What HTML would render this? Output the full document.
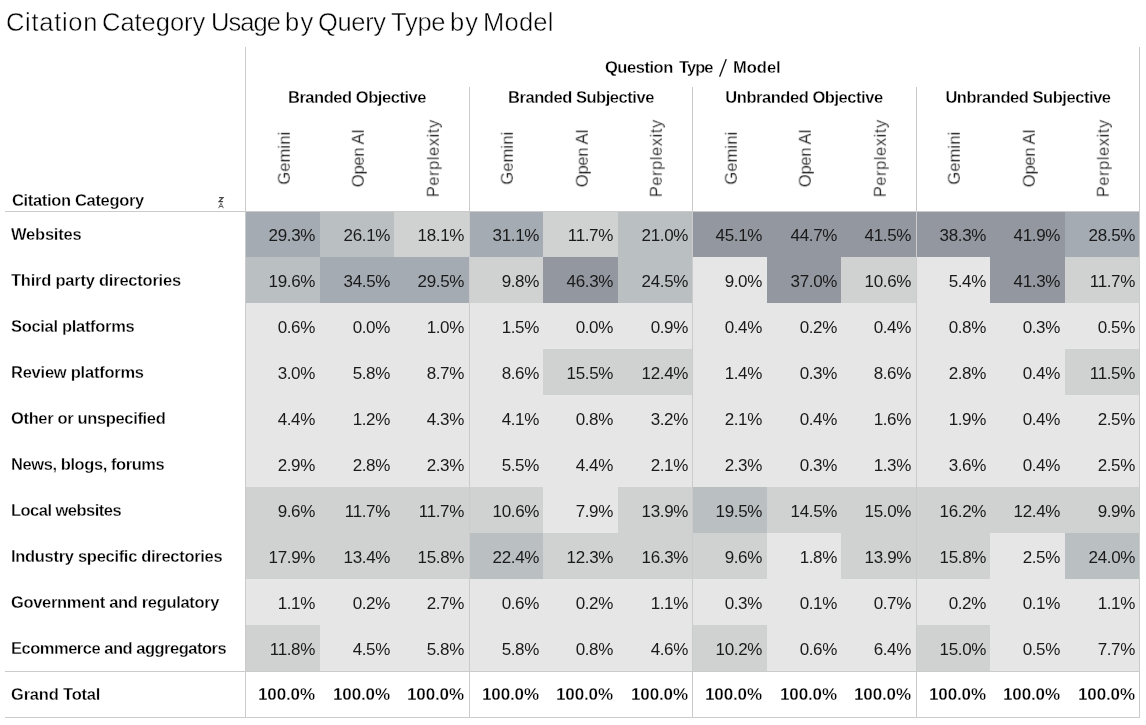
<!DOCTYPE html><html><head><meta charset="utf-8"><title>Citation Category Usage</title><style>
*{margin:0;padding:0;box-sizing:border-box}
html,body{width:1146px;height:725px;overflow:hidden;background:#fff}
body{position:relative;font-family:"Liberation Sans",sans-serif;color:#1a1a1a}
.a{position:absolute}
.t{position:absolute;white-space:nowrap;will-change:transform}
.hl{position:absolute;height:1px;background:#cbcbcb}
.vl{position:absolute;width:1px;background:#cbcbcb}
</style></head><body>
<div class="t" style="top:9.71px;font-size:25.50px;line-height:25.50px;letter-spacing:0.70px;font-weight:normal;color:#000;-webkit-text-stroke:0.45px #fff;left:5.60px;">Citation</div>
<div class="t" style="top:9.71px;font-size:25.50px;line-height:25.50px;letter-spacing:-0.03px;font-weight:normal;color:#000;-webkit-text-stroke:0.45px #fff;left:102.00px;">Category</div>
<div class="t" style="top:9.71px;font-size:25.50px;line-height:25.50px;letter-spacing:-0.93px;font-weight:normal;color:#000;-webkit-text-stroke:0.45px #fff;left:210.60px;">Usage</div>
<div class="t" style="top:9.71px;font-size:25.50px;line-height:25.50px;letter-spacing:1.20px;font-weight:normal;color:#000;-webkit-text-stroke:0.45px #fff;left:285.10px;">by</div>
<div class="t" style="top:9.71px;font-size:25.50px;line-height:25.50px;letter-spacing:-0.35px;font-weight:normal;color:#000;-webkit-text-stroke:0.45px #fff;left:317.60px;">Query</div>
<div class="t" style="top:9.71px;font-size:25.50px;line-height:25.50px;letter-spacing:-0.27px;font-weight:normal;color:#000;-webkit-text-stroke:0.45px #fff;left:390.70px;">Type</div>
<div class="t" style="top:9.71px;font-size:25.50px;line-height:25.50px;letter-spacing:1.00px;font-weight:normal;color:#000;-webkit-text-stroke:0.45px #fff;left:449.60px;">by</div>
<div class="t" style="top:9.71px;font-size:25.50px;line-height:25.50px;letter-spacing:0.23px;font-weight:normal;color:#000;-webkit-text-stroke:0.45px #fff;left:483.00px;">Model</div>
<div class="a" style="left:245px;top:211px;width:75px;height:46px;background:#a5abb3"></div>
<div class="a" style="left:320px;top:211px;width:74px;height:46px;background:#babfc2"></div>
<div class="a" style="left:394px;top:211px;width:75px;height:46px;background:#d0d2d1"></div>
<div class="a" style="left:469px;top:211px;width:74px;height:46px;background:#a5abb3"></div>
<div class="a" style="left:543px;top:211px;width:75px;height:46px;background:#d0d2d1"></div>
<div class="a" style="left:618px;top:211px;width:74px;height:46px;background:#babfc2"></div>
<div class="a" style="left:692px;top:211px;width:75px;height:46px;background:#93979f"></div>
<div class="a" style="left:767px;top:211px;width:74px;height:46px;background:#93979f"></div>
<div class="a" style="left:841px;top:211px;width:75px;height:46px;background:#93979f"></div>
<div class="a" style="left:916px;top:211px;width:74px;height:46px;background:#93979f"></div>
<div class="a" style="left:990px;top:211px;width:75px;height:46px;background:#93979f"></div>
<div class="a" style="left:1065px;top:211px;width:74px;height:46px;background:#a5abb3"></div>
<div class="a" style="left:245px;top:257px;width:75px;height:46px;background:#babfc2"></div>
<div class="a" style="left:320px;top:257px;width:74px;height:46px;background:#a5abb3"></div>
<div class="a" style="left:394px;top:257px;width:75px;height:46px;background:#a5abb3"></div>
<div class="a" style="left:469px;top:257px;width:74px;height:46px;background:#d0d2d1"></div>
<div class="a" style="left:543px;top:257px;width:75px;height:46px;background:#93979f"></div>
<div class="a" style="left:618px;top:257px;width:74px;height:46px;background:#babfc2"></div>
<div class="a" style="left:692px;top:257px;width:75px;height:46px;background:#e6e6e6"></div>
<div class="a" style="left:767px;top:257px;width:74px;height:46px;background:#93979f"></div>
<div class="a" style="left:841px;top:257px;width:75px;height:46px;background:#d0d2d1"></div>
<div class="a" style="left:916px;top:257px;width:74px;height:46px;background:#e6e6e6"></div>
<div class="a" style="left:990px;top:257px;width:75px;height:46px;background:#93979f"></div>
<div class="a" style="left:1065px;top:257px;width:74px;height:46px;background:#d0d2d1"></div>
<div class="a" style="left:245px;top:303px;width:75px;height:46px;background:#e6e6e6"></div>
<div class="a" style="left:320px;top:303px;width:74px;height:46px;background:#e6e6e6"></div>
<div class="a" style="left:394px;top:303px;width:75px;height:46px;background:#e6e6e6"></div>
<div class="a" style="left:469px;top:303px;width:74px;height:46px;background:#e6e6e6"></div>
<div class="a" style="left:543px;top:303px;width:75px;height:46px;background:#e6e6e6"></div>
<div class="a" style="left:618px;top:303px;width:74px;height:46px;background:#e6e6e6"></div>
<div class="a" style="left:692px;top:303px;width:75px;height:46px;background:#e6e6e6"></div>
<div class="a" style="left:767px;top:303px;width:74px;height:46px;background:#e6e6e6"></div>
<div class="a" style="left:841px;top:303px;width:75px;height:46px;background:#e6e6e6"></div>
<div class="a" style="left:916px;top:303px;width:74px;height:46px;background:#e6e6e6"></div>
<div class="a" style="left:990px;top:303px;width:75px;height:46px;background:#e6e6e6"></div>
<div class="a" style="left:1065px;top:303px;width:74px;height:46px;background:#e6e6e6"></div>
<div class="a" style="left:245px;top:349px;width:75px;height:46px;background:#e6e6e6"></div>
<div class="a" style="left:320px;top:349px;width:74px;height:46px;background:#e6e6e6"></div>
<div class="a" style="left:394px;top:349px;width:75px;height:46px;background:#e6e6e6"></div>
<div class="a" style="left:469px;top:349px;width:74px;height:46px;background:#e6e6e6"></div>
<div class="a" style="left:543px;top:349px;width:75px;height:46px;background:#d0d2d1"></div>
<div class="a" style="left:618px;top:349px;width:74px;height:46px;background:#d0d2d1"></div>
<div class="a" style="left:692px;top:349px;width:75px;height:46px;background:#e6e6e6"></div>
<div class="a" style="left:767px;top:349px;width:74px;height:46px;background:#e6e6e6"></div>
<div class="a" style="left:841px;top:349px;width:75px;height:46px;background:#e6e6e6"></div>
<div class="a" style="left:916px;top:349px;width:74px;height:46px;background:#e6e6e6"></div>
<div class="a" style="left:990px;top:349px;width:75px;height:46px;background:#e6e6e6"></div>
<div class="a" style="left:1065px;top:349px;width:74px;height:46px;background:#d0d2d1"></div>
<div class="a" style="left:245px;top:395px;width:75px;height:46px;background:#e6e6e6"></div>
<div class="a" style="left:320px;top:395px;width:74px;height:46px;background:#e6e6e6"></div>
<div class="a" style="left:394px;top:395px;width:75px;height:46px;background:#e6e6e6"></div>
<div class="a" style="left:469px;top:395px;width:74px;height:46px;background:#e6e6e6"></div>
<div class="a" style="left:543px;top:395px;width:75px;height:46px;background:#e6e6e6"></div>
<div class="a" style="left:618px;top:395px;width:74px;height:46px;background:#e6e6e6"></div>
<div class="a" style="left:692px;top:395px;width:75px;height:46px;background:#e6e6e6"></div>
<div class="a" style="left:767px;top:395px;width:74px;height:46px;background:#e6e6e6"></div>
<div class="a" style="left:841px;top:395px;width:75px;height:46px;background:#e6e6e6"></div>
<div class="a" style="left:916px;top:395px;width:74px;height:46px;background:#e6e6e6"></div>
<div class="a" style="left:990px;top:395px;width:75px;height:46px;background:#e6e6e6"></div>
<div class="a" style="left:1065px;top:395px;width:74px;height:46px;background:#e6e6e6"></div>
<div class="a" style="left:245px;top:441px;width:75px;height:46px;background:#e6e6e6"></div>
<div class="a" style="left:320px;top:441px;width:74px;height:46px;background:#e6e6e6"></div>
<div class="a" style="left:394px;top:441px;width:75px;height:46px;background:#e6e6e6"></div>
<div class="a" style="left:469px;top:441px;width:74px;height:46px;background:#e6e6e6"></div>
<div class="a" style="left:543px;top:441px;width:75px;height:46px;background:#e6e6e6"></div>
<div class="a" style="left:618px;top:441px;width:74px;height:46px;background:#e6e6e6"></div>
<div class="a" style="left:692px;top:441px;width:75px;height:46px;background:#e6e6e6"></div>
<div class="a" style="left:767px;top:441px;width:74px;height:46px;background:#e6e6e6"></div>
<div class="a" style="left:841px;top:441px;width:75px;height:46px;background:#e6e6e6"></div>
<div class="a" style="left:916px;top:441px;width:74px;height:46px;background:#e6e6e6"></div>
<div class="a" style="left:990px;top:441px;width:75px;height:46px;background:#e6e6e6"></div>
<div class="a" style="left:1065px;top:441px;width:74px;height:46px;background:#e6e6e6"></div>
<div class="a" style="left:245px;top:487px;width:75px;height:46px;background:#d0d2d1"></div>
<div class="a" style="left:320px;top:487px;width:74px;height:46px;background:#d0d2d1"></div>
<div class="a" style="left:394px;top:487px;width:75px;height:46px;background:#d0d2d1"></div>
<div class="a" style="left:469px;top:487px;width:74px;height:46px;background:#d0d2d1"></div>
<div class="a" style="left:543px;top:487px;width:75px;height:46px;background:#e6e6e6"></div>
<div class="a" style="left:618px;top:487px;width:74px;height:46px;background:#d0d2d1"></div>
<div class="a" style="left:692px;top:487px;width:75px;height:46px;background:#babfc2"></div>
<div class="a" style="left:767px;top:487px;width:74px;height:46px;background:#d0d2d1"></div>
<div class="a" style="left:841px;top:487px;width:75px;height:46px;background:#d0d2d1"></div>
<div class="a" style="left:916px;top:487px;width:74px;height:46px;background:#d0d2d1"></div>
<div class="a" style="left:990px;top:487px;width:75px;height:46px;background:#d0d2d1"></div>
<div class="a" style="left:1065px;top:487px;width:74px;height:46px;background:#d0d2d1"></div>
<div class="a" style="left:245px;top:533px;width:75px;height:46px;background:#d0d2d1"></div>
<div class="a" style="left:320px;top:533px;width:74px;height:46px;background:#d0d2d1"></div>
<div class="a" style="left:394px;top:533px;width:75px;height:46px;background:#d0d2d1"></div>
<div class="a" style="left:469px;top:533px;width:74px;height:46px;background:#babfc2"></div>
<div class="a" style="left:543px;top:533px;width:75px;height:46px;background:#d0d2d1"></div>
<div class="a" style="left:618px;top:533px;width:74px;height:46px;background:#d0d2d1"></div>
<div class="a" style="left:692px;top:533px;width:75px;height:46px;background:#d0d2d1"></div>
<div class="a" style="left:767px;top:533px;width:74px;height:46px;background:#e6e6e6"></div>
<div class="a" style="left:841px;top:533px;width:75px;height:46px;background:#d0d2d1"></div>
<div class="a" style="left:916px;top:533px;width:74px;height:46px;background:#d0d2d1"></div>
<div class="a" style="left:990px;top:533px;width:75px;height:46px;background:#e6e6e6"></div>
<div class="a" style="left:1065px;top:533px;width:74px;height:46px;background:#babfc2"></div>
<div class="a" style="left:245px;top:579px;width:75px;height:46px;background:#e6e6e6"></div>
<div class="a" style="left:320px;top:579px;width:74px;height:46px;background:#e6e6e6"></div>
<div class="a" style="left:394px;top:579px;width:75px;height:46px;background:#e6e6e6"></div>
<div class="a" style="left:469px;top:579px;width:74px;height:46px;background:#e6e6e6"></div>
<div class="a" style="left:543px;top:579px;width:75px;height:46px;background:#e6e6e6"></div>
<div class="a" style="left:618px;top:579px;width:74px;height:46px;background:#e6e6e6"></div>
<div class="a" style="left:692px;top:579px;width:75px;height:46px;background:#e6e6e6"></div>
<div class="a" style="left:767px;top:579px;width:74px;height:46px;background:#e6e6e6"></div>
<div class="a" style="left:841px;top:579px;width:75px;height:46px;background:#e6e6e6"></div>
<div class="a" style="left:916px;top:579px;width:74px;height:46px;background:#e6e6e6"></div>
<div class="a" style="left:990px;top:579px;width:75px;height:46px;background:#e6e6e6"></div>
<div class="a" style="left:1065px;top:579px;width:74px;height:46px;background:#e6e6e6"></div>
<div class="a" style="left:245px;top:625px;width:75px;height:46px;background:#d0d2d1"></div>
<div class="a" style="left:320px;top:625px;width:74px;height:46px;background:#e6e6e6"></div>
<div class="a" style="left:394px;top:625px;width:75px;height:46px;background:#e6e6e6"></div>
<div class="a" style="left:469px;top:625px;width:74px;height:46px;background:#e6e6e6"></div>
<div class="a" style="left:543px;top:625px;width:75px;height:46px;background:#e6e6e6"></div>
<div class="a" style="left:618px;top:625px;width:74px;height:46px;background:#e6e6e6"></div>
<div class="a" style="left:692px;top:625px;width:75px;height:46px;background:#d0d2d1"></div>
<div class="a" style="left:767px;top:625px;width:74px;height:46px;background:#e6e6e6"></div>
<div class="a" style="left:841px;top:625px;width:75px;height:46px;background:#e6e6e6"></div>
<div class="a" style="left:916px;top:625px;width:74px;height:46px;background:#d0d2d1"></div>
<div class="a" style="left:990px;top:625px;width:75px;height:46px;background:#e6e6e6"></div>
<div class="a" style="left:1065px;top:625px;width:74px;height:46px;background:#e6e6e6"></div>
<div class="hl" style="left:5px;top:211px;width:1135px"></div>
<div class="hl" style="left:5px;top:671px;width:1135px"></div>
<div class="hl" style="left:5px;top:717px;width:1135px"></div>
<div class="vl" style="left:245px;top:47px;height:671px"></div>
<div class="vl" style="left:1139px;top:47px;height:671px"></div>
<div class="vl" style="left:469px;top:87px;height:631px"></div>
<div class="vl" style="left:692px;top:87px;height:631px"></div>
<div class="vl" style="left:916px;top:87px;height:631px"></div>
<div class="t" style="top:226.03px;font-size:16.50px;line-height:16.50px;letter-spacing:-0.21px;font-weight:bold;color:#000;-webkit-text-stroke:0.3px #fff;left:10.50px;">Websites</div>
<div class="t" style="top:226.81px;font-size:17.00px;line-height:17.00px;letter-spacing:-0.35px;font-weight:normal;color:#1a1a1a;left:15.15px;width:300.00px;text-align:right;">29.3%</div>
<div class="t" style="top:226.81px;font-size:17.00px;line-height:17.00px;letter-spacing:-0.35px;font-weight:normal;color:#1a1a1a;left:89.65px;width:300.00px;text-align:right;">26.1%</div>
<div class="t" style="top:226.81px;font-size:17.00px;line-height:17.00px;letter-spacing:-0.35px;font-weight:normal;color:#1a1a1a;left:164.15px;width:300.00px;text-align:right;">18.1%</div>
<div class="t" style="top:226.81px;font-size:17.00px;line-height:17.00px;letter-spacing:-0.35px;font-weight:normal;color:#1a1a1a;left:238.65px;width:300.00px;text-align:right;">31.1%</div>
<div class="t" style="top:226.81px;font-size:17.00px;line-height:17.00px;letter-spacing:-0.35px;font-weight:normal;color:#1a1a1a;left:313.15px;width:300.00px;text-align:right;">11.7%</div>
<div class="t" style="top:226.81px;font-size:17.00px;line-height:17.00px;letter-spacing:-0.35px;font-weight:normal;color:#1a1a1a;left:387.65px;width:300.00px;text-align:right;">21.0%</div>
<div class="t" style="top:226.81px;font-size:17.00px;line-height:17.00px;letter-spacing:-0.35px;font-weight:normal;color:#1a1a1a;left:462.15px;width:300.00px;text-align:right;">45.1%</div>
<div class="t" style="top:226.81px;font-size:17.00px;line-height:17.00px;letter-spacing:-0.35px;font-weight:normal;color:#1a1a1a;left:536.65px;width:300.00px;text-align:right;">44.7%</div>
<div class="t" style="top:226.81px;font-size:17.00px;line-height:17.00px;letter-spacing:-0.35px;font-weight:normal;color:#1a1a1a;left:611.15px;width:300.00px;text-align:right;">41.5%</div>
<div class="t" style="top:226.81px;font-size:17.00px;line-height:17.00px;letter-spacing:-0.35px;font-weight:normal;color:#1a1a1a;left:685.65px;width:300.00px;text-align:right;">38.3%</div>
<div class="t" style="top:226.81px;font-size:17.00px;line-height:17.00px;letter-spacing:-0.35px;font-weight:normal;color:#1a1a1a;left:760.15px;width:300.00px;text-align:right;">41.9%</div>
<div class="t" style="top:226.81px;font-size:17.00px;line-height:17.00px;letter-spacing:-0.35px;font-weight:normal;color:#1a1a1a;left:834.65px;width:300.00px;text-align:right;">28.5%</div>
<div class="t" style="top:272.03px;font-size:16.50px;line-height:16.50px;letter-spacing:-0.23px;font-weight:bold;color:#000;-webkit-text-stroke:0.3px #fff;left:10.50px;">Third party directories</div>
<div class="t" style="top:272.81px;font-size:17.00px;line-height:17.00px;letter-spacing:-0.35px;font-weight:normal;color:#1a1a1a;left:15.15px;width:300.00px;text-align:right;">19.6%</div>
<div class="t" style="top:272.81px;font-size:17.00px;line-height:17.00px;letter-spacing:-0.35px;font-weight:normal;color:#1a1a1a;left:89.65px;width:300.00px;text-align:right;">34.5%</div>
<div class="t" style="top:272.81px;font-size:17.00px;line-height:17.00px;letter-spacing:-0.35px;font-weight:normal;color:#1a1a1a;left:164.15px;width:300.00px;text-align:right;">29.5%</div>
<div class="t" style="top:272.81px;font-size:17.00px;line-height:17.00px;letter-spacing:-0.35px;font-weight:normal;color:#1a1a1a;left:238.65px;width:300.00px;text-align:right;">9.8%</div>
<div class="t" style="top:272.81px;font-size:17.00px;line-height:17.00px;letter-spacing:-0.35px;font-weight:normal;color:#1a1a1a;left:313.15px;width:300.00px;text-align:right;">46.3%</div>
<div class="t" style="top:272.81px;font-size:17.00px;line-height:17.00px;letter-spacing:-0.35px;font-weight:normal;color:#1a1a1a;left:387.65px;width:300.00px;text-align:right;">24.5%</div>
<div class="t" style="top:272.81px;font-size:17.00px;line-height:17.00px;letter-spacing:-0.35px;font-weight:normal;color:#1a1a1a;left:462.15px;width:300.00px;text-align:right;">9.0%</div>
<div class="t" style="top:272.81px;font-size:17.00px;line-height:17.00px;letter-spacing:-0.35px;font-weight:normal;color:#1a1a1a;left:536.65px;width:300.00px;text-align:right;">37.0%</div>
<div class="t" style="top:272.81px;font-size:17.00px;line-height:17.00px;letter-spacing:-0.35px;font-weight:normal;color:#1a1a1a;left:611.15px;width:300.00px;text-align:right;">10.6%</div>
<div class="t" style="top:272.81px;font-size:17.00px;line-height:17.00px;letter-spacing:-0.35px;font-weight:normal;color:#1a1a1a;left:685.65px;width:300.00px;text-align:right;">5.4%</div>
<div class="t" style="top:272.81px;font-size:17.00px;line-height:17.00px;letter-spacing:-0.35px;font-weight:normal;color:#1a1a1a;left:760.15px;width:300.00px;text-align:right;">41.3%</div>
<div class="t" style="top:272.81px;font-size:17.00px;line-height:17.00px;letter-spacing:-0.35px;font-weight:normal;color:#1a1a1a;left:834.65px;width:300.00px;text-align:right;">11.7%</div>
<div class="t" style="top:318.03px;font-size:16.50px;line-height:16.50px;letter-spacing:-0.31px;font-weight:bold;color:#000;-webkit-text-stroke:0.3px #fff;left:10.50px;">Social platforms</div>
<div class="t" style="top:318.81px;font-size:17.00px;line-height:17.00px;letter-spacing:-0.35px;font-weight:normal;color:#1a1a1a;left:15.15px;width:300.00px;text-align:right;">0.6%</div>
<div class="t" style="top:318.81px;font-size:17.00px;line-height:17.00px;letter-spacing:-0.35px;font-weight:normal;color:#1a1a1a;left:89.65px;width:300.00px;text-align:right;">0.0%</div>
<div class="t" style="top:318.81px;font-size:17.00px;line-height:17.00px;letter-spacing:-0.35px;font-weight:normal;color:#1a1a1a;left:164.15px;width:300.00px;text-align:right;">1.0%</div>
<div class="t" style="top:318.81px;font-size:17.00px;line-height:17.00px;letter-spacing:-0.35px;font-weight:normal;color:#1a1a1a;left:238.65px;width:300.00px;text-align:right;">1.5%</div>
<div class="t" style="top:318.81px;font-size:17.00px;line-height:17.00px;letter-spacing:-0.35px;font-weight:normal;color:#1a1a1a;left:313.15px;width:300.00px;text-align:right;">0.0%</div>
<div class="t" style="top:318.81px;font-size:17.00px;line-height:17.00px;letter-spacing:-0.35px;font-weight:normal;color:#1a1a1a;left:387.65px;width:300.00px;text-align:right;">0.9%</div>
<div class="t" style="top:318.81px;font-size:17.00px;line-height:17.00px;letter-spacing:-0.35px;font-weight:normal;color:#1a1a1a;left:462.15px;width:300.00px;text-align:right;">0.4%</div>
<div class="t" style="top:318.81px;font-size:17.00px;line-height:17.00px;letter-spacing:-0.35px;font-weight:normal;color:#1a1a1a;left:536.65px;width:300.00px;text-align:right;">0.2%</div>
<div class="t" style="top:318.81px;font-size:17.00px;line-height:17.00px;letter-spacing:-0.35px;font-weight:normal;color:#1a1a1a;left:611.15px;width:300.00px;text-align:right;">0.4%</div>
<div class="t" style="top:318.81px;font-size:17.00px;line-height:17.00px;letter-spacing:-0.35px;font-weight:normal;color:#1a1a1a;left:685.65px;width:300.00px;text-align:right;">0.8%</div>
<div class="t" style="top:318.81px;font-size:17.00px;line-height:17.00px;letter-spacing:-0.35px;font-weight:normal;color:#1a1a1a;left:760.15px;width:300.00px;text-align:right;">0.3%</div>
<div class="t" style="top:318.81px;font-size:17.00px;line-height:17.00px;letter-spacing:-0.35px;font-weight:normal;color:#1a1a1a;left:834.65px;width:300.00px;text-align:right;">0.5%</div>
<div class="t" style="top:364.03px;font-size:16.50px;line-height:16.50px;letter-spacing:-0.24px;font-weight:bold;color:#000;-webkit-text-stroke:0.3px #fff;left:10.50px;">Review platforms</div>
<div class="t" style="top:364.81px;font-size:17.00px;line-height:17.00px;letter-spacing:-0.35px;font-weight:normal;color:#1a1a1a;left:15.15px;width:300.00px;text-align:right;">3.0%</div>
<div class="t" style="top:364.81px;font-size:17.00px;line-height:17.00px;letter-spacing:-0.35px;font-weight:normal;color:#1a1a1a;left:89.65px;width:300.00px;text-align:right;">5.8%</div>
<div class="t" style="top:364.81px;font-size:17.00px;line-height:17.00px;letter-spacing:-0.35px;font-weight:normal;color:#1a1a1a;left:164.15px;width:300.00px;text-align:right;">8.7%</div>
<div class="t" style="top:364.81px;font-size:17.00px;line-height:17.00px;letter-spacing:-0.35px;font-weight:normal;color:#1a1a1a;left:238.65px;width:300.00px;text-align:right;">8.6%</div>
<div class="t" style="top:364.81px;font-size:17.00px;line-height:17.00px;letter-spacing:-0.35px;font-weight:normal;color:#1a1a1a;left:313.15px;width:300.00px;text-align:right;">15.5%</div>
<div class="t" style="top:364.81px;font-size:17.00px;line-height:17.00px;letter-spacing:-0.35px;font-weight:normal;color:#1a1a1a;left:387.65px;width:300.00px;text-align:right;">12.4%</div>
<div class="t" style="top:364.81px;font-size:17.00px;line-height:17.00px;letter-spacing:-0.35px;font-weight:normal;color:#1a1a1a;left:462.15px;width:300.00px;text-align:right;">1.4%</div>
<div class="t" style="top:364.81px;font-size:17.00px;line-height:17.00px;letter-spacing:-0.35px;font-weight:normal;color:#1a1a1a;left:536.65px;width:300.00px;text-align:right;">0.3%</div>
<div class="t" style="top:364.81px;font-size:17.00px;line-height:17.00px;letter-spacing:-0.35px;font-weight:normal;color:#1a1a1a;left:611.15px;width:300.00px;text-align:right;">8.6%</div>
<div class="t" style="top:364.81px;font-size:17.00px;line-height:17.00px;letter-spacing:-0.35px;font-weight:normal;color:#1a1a1a;left:685.65px;width:300.00px;text-align:right;">2.8%</div>
<div class="t" style="top:364.81px;font-size:17.00px;line-height:17.00px;letter-spacing:-0.35px;font-weight:normal;color:#1a1a1a;left:760.15px;width:300.00px;text-align:right;">0.4%</div>
<div class="t" style="top:364.81px;font-size:17.00px;line-height:17.00px;letter-spacing:-0.35px;font-weight:normal;color:#1a1a1a;left:834.65px;width:300.00px;text-align:right;">11.5%</div>
<div class="t" style="top:410.03px;font-size:16.50px;line-height:16.50px;letter-spacing:-0.35px;font-weight:bold;color:#000;-webkit-text-stroke:0.3px #fff;left:10.50px;">Other or unspecified</div>
<div class="t" style="top:410.81px;font-size:17.00px;line-height:17.00px;letter-spacing:-0.35px;font-weight:normal;color:#1a1a1a;left:15.15px;width:300.00px;text-align:right;">4.4%</div>
<div class="t" style="top:410.81px;font-size:17.00px;line-height:17.00px;letter-spacing:-0.35px;font-weight:normal;color:#1a1a1a;left:89.65px;width:300.00px;text-align:right;">1.2%</div>
<div class="t" style="top:410.81px;font-size:17.00px;line-height:17.00px;letter-spacing:-0.35px;font-weight:normal;color:#1a1a1a;left:164.15px;width:300.00px;text-align:right;">4.3%</div>
<div class="t" style="top:410.81px;font-size:17.00px;line-height:17.00px;letter-spacing:-0.35px;font-weight:normal;color:#1a1a1a;left:238.65px;width:300.00px;text-align:right;">4.1%</div>
<div class="t" style="top:410.81px;font-size:17.00px;line-height:17.00px;letter-spacing:-0.35px;font-weight:normal;color:#1a1a1a;left:313.15px;width:300.00px;text-align:right;">0.8%</div>
<div class="t" style="top:410.81px;font-size:17.00px;line-height:17.00px;letter-spacing:-0.35px;font-weight:normal;color:#1a1a1a;left:387.65px;width:300.00px;text-align:right;">3.2%</div>
<div class="t" style="top:410.81px;font-size:17.00px;line-height:17.00px;letter-spacing:-0.35px;font-weight:normal;color:#1a1a1a;left:462.15px;width:300.00px;text-align:right;">2.1%</div>
<div class="t" style="top:410.81px;font-size:17.00px;line-height:17.00px;letter-spacing:-0.35px;font-weight:normal;color:#1a1a1a;left:536.65px;width:300.00px;text-align:right;">0.4%</div>
<div class="t" style="top:410.81px;font-size:17.00px;line-height:17.00px;letter-spacing:-0.35px;font-weight:normal;color:#1a1a1a;left:611.15px;width:300.00px;text-align:right;">1.6%</div>
<div class="t" style="top:410.81px;font-size:17.00px;line-height:17.00px;letter-spacing:-0.35px;font-weight:normal;color:#1a1a1a;left:685.65px;width:300.00px;text-align:right;">1.9%</div>
<div class="t" style="top:410.81px;font-size:17.00px;line-height:17.00px;letter-spacing:-0.35px;font-weight:normal;color:#1a1a1a;left:760.15px;width:300.00px;text-align:right;">0.4%</div>
<div class="t" style="top:410.81px;font-size:17.00px;line-height:17.00px;letter-spacing:-0.35px;font-weight:normal;color:#1a1a1a;left:834.65px;width:300.00px;text-align:right;">2.5%</div>
<div class="t" style="top:456.03px;font-size:16.50px;line-height:16.50px;letter-spacing:-0.42px;font-weight:bold;color:#000;-webkit-text-stroke:0.3px #fff;left:10.50px;">News, blogs, forums</div>
<div class="t" style="top:456.81px;font-size:17.00px;line-height:17.00px;letter-spacing:-0.35px;font-weight:normal;color:#1a1a1a;left:15.15px;width:300.00px;text-align:right;">2.9%</div>
<div class="t" style="top:456.81px;font-size:17.00px;line-height:17.00px;letter-spacing:-0.35px;font-weight:normal;color:#1a1a1a;left:89.65px;width:300.00px;text-align:right;">2.8%</div>
<div class="t" style="top:456.81px;font-size:17.00px;line-height:17.00px;letter-spacing:-0.35px;font-weight:normal;color:#1a1a1a;left:164.15px;width:300.00px;text-align:right;">2.3%</div>
<div class="t" style="top:456.81px;font-size:17.00px;line-height:17.00px;letter-spacing:-0.35px;font-weight:normal;color:#1a1a1a;left:238.65px;width:300.00px;text-align:right;">5.5%</div>
<div class="t" style="top:456.81px;font-size:17.00px;line-height:17.00px;letter-spacing:-0.35px;font-weight:normal;color:#1a1a1a;left:313.15px;width:300.00px;text-align:right;">4.4%</div>
<div class="t" style="top:456.81px;font-size:17.00px;line-height:17.00px;letter-spacing:-0.35px;font-weight:normal;color:#1a1a1a;left:387.65px;width:300.00px;text-align:right;">2.1%</div>
<div class="t" style="top:456.81px;font-size:17.00px;line-height:17.00px;letter-spacing:-0.35px;font-weight:normal;color:#1a1a1a;left:462.15px;width:300.00px;text-align:right;">2.3%</div>
<div class="t" style="top:456.81px;font-size:17.00px;line-height:17.00px;letter-spacing:-0.35px;font-weight:normal;color:#1a1a1a;left:536.65px;width:300.00px;text-align:right;">0.3%</div>
<div class="t" style="top:456.81px;font-size:17.00px;line-height:17.00px;letter-spacing:-0.35px;font-weight:normal;color:#1a1a1a;left:611.15px;width:300.00px;text-align:right;">1.3%</div>
<div class="t" style="top:456.81px;font-size:17.00px;line-height:17.00px;letter-spacing:-0.35px;font-weight:normal;color:#1a1a1a;left:685.65px;width:300.00px;text-align:right;">3.6%</div>
<div class="t" style="top:456.81px;font-size:17.00px;line-height:17.00px;letter-spacing:-0.35px;font-weight:normal;color:#1a1a1a;left:760.15px;width:300.00px;text-align:right;">0.4%</div>
<div class="t" style="top:456.81px;font-size:17.00px;line-height:17.00px;letter-spacing:-0.35px;font-weight:normal;color:#1a1a1a;left:834.65px;width:300.00px;text-align:right;">2.5%</div>
<div class="t" style="top:502.03px;font-size:16.50px;line-height:16.50px;letter-spacing:-0.52px;font-weight:bold;color:#000;-webkit-text-stroke:0.3px #fff;left:10.50px;">Local websites</div>
<div class="t" style="top:502.81px;font-size:17.00px;line-height:17.00px;letter-spacing:-0.35px;font-weight:normal;color:#1a1a1a;left:15.15px;width:300.00px;text-align:right;">9.6%</div>
<div class="t" style="top:502.81px;font-size:17.00px;line-height:17.00px;letter-spacing:-0.35px;font-weight:normal;color:#1a1a1a;left:89.65px;width:300.00px;text-align:right;">11.7%</div>
<div class="t" style="top:502.81px;font-size:17.00px;line-height:17.00px;letter-spacing:-0.35px;font-weight:normal;color:#1a1a1a;left:164.15px;width:300.00px;text-align:right;">11.7%</div>
<div class="t" style="top:502.81px;font-size:17.00px;line-height:17.00px;letter-spacing:-0.35px;font-weight:normal;color:#1a1a1a;left:238.65px;width:300.00px;text-align:right;">10.6%</div>
<div class="t" style="top:502.81px;font-size:17.00px;line-height:17.00px;letter-spacing:-0.35px;font-weight:normal;color:#1a1a1a;left:313.15px;width:300.00px;text-align:right;">7.9%</div>
<div class="t" style="top:502.81px;font-size:17.00px;line-height:17.00px;letter-spacing:-0.35px;font-weight:normal;color:#1a1a1a;left:387.65px;width:300.00px;text-align:right;">13.9%</div>
<div class="t" style="top:502.81px;font-size:17.00px;line-height:17.00px;letter-spacing:-0.35px;font-weight:normal;color:#1a1a1a;left:462.15px;width:300.00px;text-align:right;">19.5%</div>
<div class="t" style="top:502.81px;font-size:17.00px;line-height:17.00px;letter-spacing:-0.35px;font-weight:normal;color:#1a1a1a;left:536.65px;width:300.00px;text-align:right;">14.5%</div>
<div class="t" style="top:502.81px;font-size:17.00px;line-height:17.00px;letter-spacing:-0.35px;font-weight:normal;color:#1a1a1a;left:611.15px;width:300.00px;text-align:right;">15.0%</div>
<div class="t" style="top:502.81px;font-size:17.00px;line-height:17.00px;letter-spacing:-0.35px;font-weight:normal;color:#1a1a1a;left:685.65px;width:300.00px;text-align:right;">16.2%</div>
<div class="t" style="top:502.81px;font-size:17.00px;line-height:17.00px;letter-spacing:-0.35px;font-weight:normal;color:#1a1a1a;left:760.15px;width:300.00px;text-align:right;">12.4%</div>
<div class="t" style="top:502.81px;font-size:17.00px;line-height:17.00px;letter-spacing:-0.35px;font-weight:normal;color:#1a1a1a;left:834.65px;width:300.00px;text-align:right;">9.9%</div>
<div class="t" style="top:548.03px;font-size:16.50px;line-height:16.50px;letter-spacing:-0.30px;font-weight:bold;color:#000;-webkit-text-stroke:0.3px #fff;left:10.50px;">Industry specific directories</div>
<div class="t" style="top:548.81px;font-size:17.00px;line-height:17.00px;letter-spacing:-0.35px;font-weight:normal;color:#1a1a1a;left:15.15px;width:300.00px;text-align:right;">17.9%</div>
<div class="t" style="top:548.81px;font-size:17.00px;line-height:17.00px;letter-spacing:-0.35px;font-weight:normal;color:#1a1a1a;left:89.65px;width:300.00px;text-align:right;">13.4%</div>
<div class="t" style="top:548.81px;font-size:17.00px;line-height:17.00px;letter-spacing:-0.35px;font-weight:normal;color:#1a1a1a;left:164.15px;width:300.00px;text-align:right;">15.8%</div>
<div class="t" style="top:548.81px;font-size:17.00px;line-height:17.00px;letter-spacing:-0.35px;font-weight:normal;color:#1a1a1a;left:238.65px;width:300.00px;text-align:right;">22.4%</div>
<div class="t" style="top:548.81px;font-size:17.00px;line-height:17.00px;letter-spacing:-0.35px;font-weight:normal;color:#1a1a1a;left:313.15px;width:300.00px;text-align:right;">12.3%</div>
<div class="t" style="top:548.81px;font-size:17.00px;line-height:17.00px;letter-spacing:-0.35px;font-weight:normal;color:#1a1a1a;left:387.65px;width:300.00px;text-align:right;">16.3%</div>
<div class="t" style="top:548.81px;font-size:17.00px;line-height:17.00px;letter-spacing:-0.35px;font-weight:normal;color:#1a1a1a;left:462.15px;width:300.00px;text-align:right;">9.6%</div>
<div class="t" style="top:548.81px;font-size:17.00px;line-height:17.00px;letter-spacing:-0.35px;font-weight:normal;color:#1a1a1a;left:536.65px;width:300.00px;text-align:right;">1.8%</div>
<div class="t" style="top:548.81px;font-size:17.00px;line-height:17.00px;letter-spacing:-0.35px;font-weight:normal;color:#1a1a1a;left:611.15px;width:300.00px;text-align:right;">13.9%</div>
<div class="t" style="top:548.81px;font-size:17.00px;line-height:17.00px;letter-spacing:-0.35px;font-weight:normal;color:#1a1a1a;left:685.65px;width:300.00px;text-align:right;">15.8%</div>
<div class="t" style="top:548.81px;font-size:17.00px;line-height:17.00px;letter-spacing:-0.35px;font-weight:normal;color:#1a1a1a;left:760.15px;width:300.00px;text-align:right;">2.5%</div>
<div class="t" style="top:548.81px;font-size:17.00px;line-height:17.00px;letter-spacing:-0.35px;font-weight:normal;color:#1a1a1a;left:834.65px;width:300.00px;text-align:right;">24.0%</div>
<div class="t" style="top:594.03px;font-size:16.50px;line-height:16.50px;letter-spacing:-0.33px;font-weight:bold;color:#000;-webkit-text-stroke:0.3px #fff;left:10.50px;">Government and regulatory</div>
<div class="t" style="top:594.81px;font-size:17.00px;line-height:17.00px;letter-spacing:-0.35px;font-weight:normal;color:#1a1a1a;left:15.15px;width:300.00px;text-align:right;">1.1%</div>
<div class="t" style="top:594.81px;font-size:17.00px;line-height:17.00px;letter-spacing:-0.35px;font-weight:normal;color:#1a1a1a;left:89.65px;width:300.00px;text-align:right;">0.2%</div>
<div class="t" style="top:594.81px;font-size:17.00px;line-height:17.00px;letter-spacing:-0.35px;font-weight:normal;color:#1a1a1a;left:164.15px;width:300.00px;text-align:right;">2.7%</div>
<div class="t" style="top:594.81px;font-size:17.00px;line-height:17.00px;letter-spacing:-0.35px;font-weight:normal;color:#1a1a1a;left:238.65px;width:300.00px;text-align:right;">0.6%</div>
<div class="t" style="top:594.81px;font-size:17.00px;line-height:17.00px;letter-spacing:-0.35px;font-weight:normal;color:#1a1a1a;left:313.15px;width:300.00px;text-align:right;">0.2%</div>
<div class="t" style="top:594.81px;font-size:17.00px;line-height:17.00px;letter-spacing:-0.35px;font-weight:normal;color:#1a1a1a;left:387.65px;width:300.00px;text-align:right;">1.1%</div>
<div class="t" style="top:594.81px;font-size:17.00px;line-height:17.00px;letter-spacing:-0.35px;font-weight:normal;color:#1a1a1a;left:462.15px;width:300.00px;text-align:right;">0.3%</div>
<div class="t" style="top:594.81px;font-size:17.00px;line-height:17.00px;letter-spacing:-0.35px;font-weight:normal;color:#1a1a1a;left:536.65px;width:300.00px;text-align:right;">0.1%</div>
<div class="t" style="top:594.81px;font-size:17.00px;line-height:17.00px;letter-spacing:-0.35px;font-weight:normal;color:#1a1a1a;left:611.15px;width:300.00px;text-align:right;">0.7%</div>
<div class="t" style="top:594.81px;font-size:17.00px;line-height:17.00px;letter-spacing:-0.35px;font-weight:normal;color:#1a1a1a;left:685.65px;width:300.00px;text-align:right;">0.2%</div>
<div class="t" style="top:594.81px;font-size:17.00px;line-height:17.00px;letter-spacing:-0.35px;font-weight:normal;color:#1a1a1a;left:760.15px;width:300.00px;text-align:right;">0.1%</div>
<div class="t" style="top:594.81px;font-size:17.00px;line-height:17.00px;letter-spacing:-0.35px;font-weight:normal;color:#1a1a1a;left:834.65px;width:300.00px;text-align:right;">1.1%</div>
<div class="t" style="top:640.03px;font-size:16.50px;line-height:16.50px;letter-spacing:-0.49px;font-weight:bold;color:#000;-webkit-text-stroke:0.3px #fff;left:10.50px;">Ecommerce and aggregators</div>
<div class="t" style="top:640.81px;font-size:17.00px;line-height:17.00px;letter-spacing:-0.35px;font-weight:normal;color:#1a1a1a;left:15.15px;width:300.00px;text-align:right;">11.8%</div>
<div class="t" style="top:640.81px;font-size:17.00px;line-height:17.00px;letter-spacing:-0.35px;font-weight:normal;color:#1a1a1a;left:89.65px;width:300.00px;text-align:right;">4.5%</div>
<div class="t" style="top:640.81px;font-size:17.00px;line-height:17.00px;letter-spacing:-0.35px;font-weight:normal;color:#1a1a1a;left:164.15px;width:300.00px;text-align:right;">5.8%</div>
<div class="t" style="top:640.81px;font-size:17.00px;line-height:17.00px;letter-spacing:-0.35px;font-weight:normal;color:#1a1a1a;left:238.65px;width:300.00px;text-align:right;">5.8%</div>
<div class="t" style="top:640.81px;font-size:17.00px;line-height:17.00px;letter-spacing:-0.35px;font-weight:normal;color:#1a1a1a;left:313.15px;width:300.00px;text-align:right;">0.8%</div>
<div class="t" style="top:640.81px;font-size:17.00px;line-height:17.00px;letter-spacing:-0.35px;font-weight:normal;color:#1a1a1a;left:387.65px;width:300.00px;text-align:right;">4.6%</div>
<div class="t" style="top:640.81px;font-size:17.00px;line-height:17.00px;letter-spacing:-0.35px;font-weight:normal;color:#1a1a1a;left:462.15px;width:300.00px;text-align:right;">10.2%</div>
<div class="t" style="top:640.81px;font-size:17.00px;line-height:17.00px;letter-spacing:-0.35px;font-weight:normal;color:#1a1a1a;left:536.65px;width:300.00px;text-align:right;">0.6%</div>
<div class="t" style="top:640.81px;font-size:17.00px;line-height:17.00px;letter-spacing:-0.35px;font-weight:normal;color:#1a1a1a;left:611.15px;width:300.00px;text-align:right;">6.4%</div>
<div class="t" style="top:640.81px;font-size:17.00px;line-height:17.00px;letter-spacing:-0.35px;font-weight:normal;color:#1a1a1a;left:685.65px;width:300.00px;text-align:right;">15.0%</div>
<div class="t" style="top:640.81px;font-size:17.00px;line-height:17.00px;letter-spacing:-0.35px;font-weight:normal;color:#1a1a1a;left:760.15px;width:300.00px;text-align:right;">0.5%</div>
<div class="t" style="top:640.81px;font-size:17.00px;line-height:17.00px;letter-spacing:-0.35px;font-weight:normal;color:#1a1a1a;left:834.65px;width:300.00px;text-align:right;">7.7%</div>
<div class="t" style="top:685.93px;font-size:16.50px;line-height:16.50px;letter-spacing:-0.20px;font-weight:bold;color:#000;-webkit-text-stroke:0.3px #fff;left:11.00px;">Grand Total</div>
<div class="t" style="top:685.61px;font-size:17.00px;line-height:17.00px;letter-spacing:-0.10px;font-weight:bold;color:#000;-webkit-text-stroke:0.3px #fff;left:15.15px;width:300.00px;text-align:right;">100.0%</div>
<div class="t" style="top:685.61px;font-size:17.00px;line-height:17.00px;letter-spacing:-0.10px;font-weight:bold;color:#000;-webkit-text-stroke:0.3px #fff;left:89.65px;width:300.00px;text-align:right;">100.0%</div>
<div class="t" style="top:685.61px;font-size:17.00px;line-height:17.00px;letter-spacing:-0.10px;font-weight:bold;color:#000;-webkit-text-stroke:0.3px #fff;left:164.15px;width:300.00px;text-align:right;">100.0%</div>
<div class="t" style="top:685.61px;font-size:17.00px;line-height:17.00px;letter-spacing:-0.10px;font-weight:bold;color:#000;-webkit-text-stroke:0.3px #fff;left:238.65px;width:300.00px;text-align:right;">100.0%</div>
<div class="t" style="top:685.61px;font-size:17.00px;line-height:17.00px;letter-spacing:-0.10px;font-weight:bold;color:#000;-webkit-text-stroke:0.3px #fff;left:313.15px;width:300.00px;text-align:right;">100.0%</div>
<div class="t" style="top:685.61px;font-size:17.00px;line-height:17.00px;letter-spacing:-0.10px;font-weight:bold;color:#000;-webkit-text-stroke:0.3px #fff;left:387.65px;width:300.00px;text-align:right;">100.0%</div>
<div class="t" style="top:685.61px;font-size:17.00px;line-height:17.00px;letter-spacing:-0.10px;font-weight:bold;color:#000;-webkit-text-stroke:0.3px #fff;left:462.15px;width:300.00px;text-align:right;">100.0%</div>
<div class="t" style="top:685.61px;font-size:17.00px;line-height:17.00px;letter-spacing:-0.10px;font-weight:bold;color:#000;-webkit-text-stroke:0.3px #fff;left:536.65px;width:300.00px;text-align:right;">100.0%</div>
<div class="t" style="top:685.61px;font-size:17.00px;line-height:17.00px;letter-spacing:-0.10px;font-weight:bold;color:#000;-webkit-text-stroke:0.3px #fff;left:611.15px;width:300.00px;text-align:right;">100.0%</div>
<div class="t" style="top:685.61px;font-size:17.00px;line-height:17.00px;letter-spacing:-0.10px;font-weight:bold;color:#000;-webkit-text-stroke:0.3px #fff;left:685.65px;width:300.00px;text-align:right;">100.0%</div>
<div class="t" style="top:685.61px;font-size:17.00px;line-height:17.00px;letter-spacing:-0.10px;font-weight:bold;color:#000;-webkit-text-stroke:0.3px #fff;left:760.15px;width:300.00px;text-align:right;">100.0%</div>
<div class="t" style="top:685.61px;font-size:17.00px;line-height:17.00px;letter-spacing:-0.10px;font-weight:bold;color:#000;-webkit-text-stroke:0.3px #fff;left:834.65px;width:300.00px;text-align:right;">100.0%</div>
<div class="t" style="top:58.93px;font-size:16.50px;line-height:16.50px;letter-spacing:-0.46px;font-weight:bold;color:#000;-webkit-text-stroke:0.3px #fff;left:605.10px;">Question</div>
<div class="t" style="top:58.93px;font-size:16.50px;line-height:16.50px;letter-spacing:-0.93px;font-weight:bold;color:#000;-webkit-text-stroke:0.3px #fff;left:679.20px;">Type</div>
<div class="t" style="top:58.93px;font-size:16.50px;line-height:16.50px;letter-spacing:0.00px;font-weight:bold;color:#000;-webkit-text-stroke:0.3px #fff;left:732.70px;">Model</div>
<svg class="a" style="left:715px;top:55px" width="16" height="26" viewBox="715 55 16 26"><path d="M726.1 59.6L719.8 76.2" stroke="#111" stroke-width="1.35" stroke-linecap="round"/></svg>
<div class="t" style="top:88.93px;font-size:16.50px;line-height:16.50px;letter-spacing:-0.45px;font-weight:bold;color:#000;-webkit-text-stroke:0.3px #fff;left:57.25px;width:600.00px;text-align:center;">Branded Objective</div>
<div class="t" style="top:88.93px;font-size:16.50px;line-height:16.50px;letter-spacing:-0.45px;font-weight:bold;color:#000;-webkit-text-stroke:0.3px #fff;left:280.75px;width:600.00px;text-align:center;">Branded Subjective</div>
<div class="t" style="top:88.93px;font-size:16.50px;line-height:16.50px;letter-spacing:-0.45px;font-weight:bold;color:#000;-webkit-text-stroke:0.3px #fff;left:504.25px;width:600.00px;text-align:center;">Unbranded Objective</div>
<div class="t" style="top:88.93px;font-size:16.50px;line-height:16.50px;letter-spacing:-0.45px;font-weight:bold;color:#000;-webkit-text-stroke:0.3px #fff;left:727.75px;width:600.00px;text-align:center;">Unbranded Subjective</div>
<div class="t" style="left:223.83px;top:150.25px;width:120px;height:16.50px;font-size:16.50px;line-height:16.50px;color:#000;text-align:center;transform:rotate(-90deg);letter-spacing:0.10px;-webkit-text-stroke:0.25px #fff;">Gemini</div>
<div class="t" style="left:298.33px;top:150.25px;width:120px;height:16.50px;font-size:16.50px;line-height:16.50px;color:#000;text-align:center;transform:rotate(-90deg);letter-spacing:-0.25px;-webkit-text-stroke:0.25px #fff;">Open AI</div>
<div class="t" style="left:372.83px;top:150.25px;width:120px;height:16.50px;font-size:16.50px;line-height:16.50px;color:#000;text-align:center;transform:rotate(-90deg);letter-spacing:0.55px;-webkit-text-stroke:0.25px #fff;">Perplexity</div>
<div class="t" style="left:447.33px;top:150.25px;width:120px;height:16.50px;font-size:16.50px;line-height:16.50px;color:#000;text-align:center;transform:rotate(-90deg);letter-spacing:0.10px;-webkit-text-stroke:0.25px #fff;">Gemini</div>
<div class="t" style="left:521.83px;top:150.25px;width:120px;height:16.50px;font-size:16.50px;line-height:16.50px;color:#000;text-align:center;transform:rotate(-90deg);letter-spacing:-0.25px;-webkit-text-stroke:0.25px #fff;">Open AI</div>
<div class="t" style="left:596.33px;top:150.25px;width:120px;height:16.50px;font-size:16.50px;line-height:16.50px;color:#000;text-align:center;transform:rotate(-90deg);letter-spacing:0.55px;-webkit-text-stroke:0.25px #fff;">Perplexity</div>
<div class="t" style="left:670.83px;top:150.25px;width:120px;height:16.50px;font-size:16.50px;line-height:16.50px;color:#000;text-align:center;transform:rotate(-90deg);letter-spacing:0.10px;-webkit-text-stroke:0.25px #fff;">Gemini</div>
<div class="t" style="left:745.33px;top:150.25px;width:120px;height:16.50px;font-size:16.50px;line-height:16.50px;color:#000;text-align:center;transform:rotate(-90deg);letter-spacing:-0.25px;-webkit-text-stroke:0.25px #fff;">Open AI</div>
<div class="t" style="left:819.83px;top:150.25px;width:120px;height:16.50px;font-size:16.50px;line-height:16.50px;color:#000;text-align:center;transform:rotate(-90deg);letter-spacing:0.55px;-webkit-text-stroke:0.25px #fff;">Perplexity</div>
<div class="t" style="left:894.33px;top:150.25px;width:120px;height:16.50px;font-size:16.50px;line-height:16.50px;color:#000;text-align:center;transform:rotate(-90deg);letter-spacing:0.10px;-webkit-text-stroke:0.25px #fff;">Gemini</div>
<div class="t" style="left:968.83px;top:150.25px;width:120px;height:16.50px;font-size:16.50px;line-height:16.50px;color:#000;text-align:center;transform:rotate(-90deg);letter-spacing:-0.25px;-webkit-text-stroke:0.25px #fff;">Open AI</div>
<div class="t" style="left:1043.33px;top:150.25px;width:120px;height:16.50px;font-size:16.50px;line-height:16.50px;color:#000;text-align:center;transform:rotate(-90deg);letter-spacing:0.55px;-webkit-text-stroke:0.25px #fff;">Perplexity</div>
<div class="t" style="top:191.73px;font-size:16.50px;line-height:16.50px;letter-spacing:-0.33px;font-weight:bold;color:#000;-webkit-text-stroke:0.3px #fff;left:12.00px;">Citation Category</div>
<svg class="a" style="left:216px;top:195px" width="10" height="15" viewBox="216 195 10 15"><path d="M219.1 197.6H222.9L219.2 201.5H223" fill="none" stroke="#444" stroke-width="1.25"/><path d="M218.6 208.2L221 203.2L223.4 208.2M219.5 206.5H222.5" fill="none" stroke="#666" stroke-width="1"/></svg>
</body></html>
